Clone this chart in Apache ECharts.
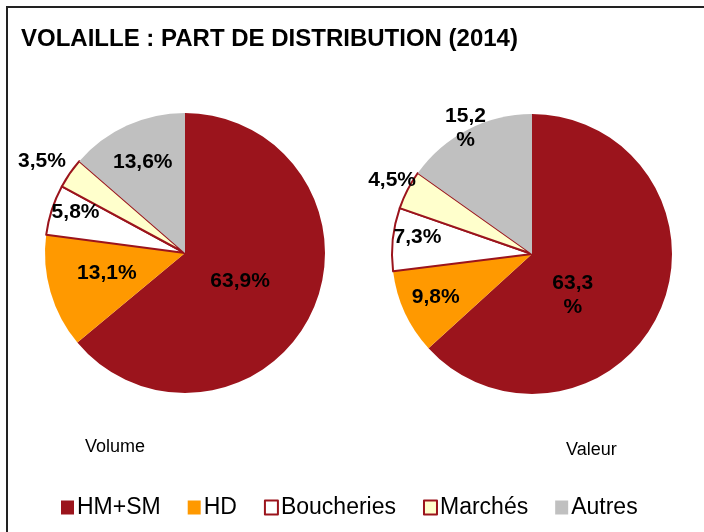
<!DOCTYPE html>
<html>
<head>
<meta charset="utf-8">
<script src="https://cdn.jsdelivr.net/npm/echarts@6/dist/echarts.min.js"></script>
<style>
  html, body { margin: 0; padding: 0; background: #fff; }
  #chart { width: 704px; height: 532px; }
</style>
</head>
<body>
<div id="chart"></div>
<script>
// categories and shares (%)
const categories = ['HM+SM', 'HD', 'Boucheries', 'Marchés', 'Autres']
const volume = [63.9, 13.1, 5.8, 3.5, 13.6]
const valeur = [63.3, 9.8, 7.3, 4.5, 15.2]
const pieNames = ['Volume', 'Valeur']
// labels that wrap the % onto a second line (valeur pie)
const valeurWrap = [true, false, false, false, true]

const RED = '#9B141C'
const colors = [RED, '#FF9900', '#FFFFFF', '#FFFFCC', '#C0C0C0']
const bordered = [false, false, true, true, false]

// label nudges from the default inside spot, per slice
const labelShift = [
  [[-11, -3], [-8, 0], [-40, -18], [-83, -50], [-12, -24]],
  [[-26, 12], [-30, 13], [-42, -9], [-75, -40], [-33, -61]]
]

const FONT = 'Liberation Sans, Arial, sans-serif'

function fmt(v, wrap) {
  return v.toFixed(1).replace('.', ',') + (wrap ? '\n%' : '%')
}

function buildData(values) {
  return categories.map((name, i) => ({
    name,
    value: values[i],
    itemStyle: {
      color: colors[i],
      borderColor: bordered[i] ? RED : colors[i],
      borderWidth: bordered[i] ? 2 : 0
    }
  }))
}

const chart = echarts.init(document.getElementById('chart'))

const pieBase = {
  type: 'pie',
  radius: 140,
  startAngle: 90,
  clockwise: true,
  animation: false,
  silent: true,
  labelLine: { show: false },
  emphasis: { disabled: true }
}

chart.setOption({
  title: [
    {
      text: 'VOLAILLE : PART DE DISTRIBUTION (2014)',
      left: 16, top: 22,
      textStyle: { fontFamily: FONT, fontSize: 24, fontWeight: 'bold', color: '#000' }
    },
    {
      text: pieNames[0], left: 80, top: 433,
      textStyle: { fontFamily: FONT, fontSize: 18, fontWeight: 'normal', color: '#000' }
    },
    {
      text: pieNames[1], left: 561, top: 436,
      textStyle: { fontFamily: FONT, fontSize: 18, fontWeight: 'normal', color: '#000' }
    }
  ],
  legend: {
    data: categories,
    bottom: 8,
    left: 56,
    icon: 'rect',
    itemWidth: 13,
    itemHeight: 14,
    itemGap: 27,
    textStyle: { fontFamily: FONT, fontSize: 23, color: '#000', padding: [0, 0, 0, -2] },
    selectedMode: false
  },
  graphic: [
    { type: 'line', shape: { x1: 6, y1: 7, x2: 704, y2: 7 }, style: { stroke: '#222', lineWidth: 2 } },
    { type: 'line', shape: { x1: 7, y1: 7, x2: 7, y2: 532 }, style: { stroke: '#222', lineWidth: 2 } }
  ],
  series: [volume, valeur].map((vals, s) => Object.assign({}, pieBase, {
    name: pieNames[s],
    center: s === 0 ? [185, 253] : [532, 254],
    data: buildData(vals),
    label: {
      show: true,
      position: 'inside',
      fontFamily: FONT,
      fontSize: 21,
      fontWeight: 'bold',
      color: '#000',
      lineHeight: 24,
      formatter: p => fmt(p.value, s === 1 && valeurWrap[p.dataIndex])
    },
    labelLayout: p => ({ dx: labelShift[s][p.dataIndex][0], dy: labelShift[s][p.dataIndex][1] })
  }))
})
</script>
</body>
</html>
